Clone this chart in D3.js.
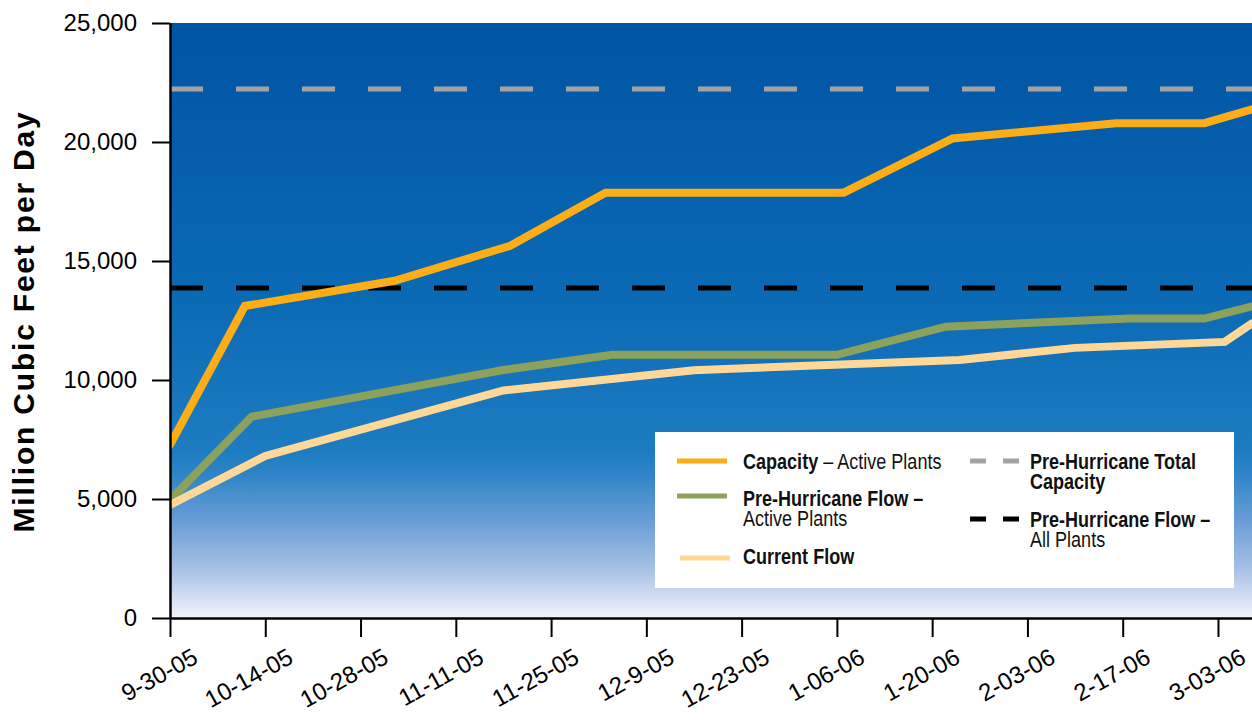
<!DOCTYPE html>
<html>
<head>
<meta charset="utf-8">
<script src="https://cdn.jsdelivr.net/npm/d3@7/dist/d3.min.js"></script>
<style>
  html, body { margin: 0; padding: 0; background: #ffffff; }
  svg { display: block; }
</style>
</head>
<body>
<svg id="chart" width="1252" height="721"></svg>
<script>
// ---- data ----------------------------------------------------------------
const tickLabels = ["9-30-05", "10-14-05", "10-28-05", "11-11-05", "11-25-05", "12-9-05",
                    "12-23-05", "1-06-06", "1-20-06", "2-03-06", "2-17-06", "3-03-06"];
const tickDates = ["2005-09-30", "2005-10-14", "2005-10-28", "2005-11-11", "2005-11-25", "2005-12-09",
                   "2005-12-23", "2006-01-06", "2006-01-20", "2006-02-03", "2006-02-17", "2006-03-03"];
const yTicks = [0, 5000, 10000, 15000, 20000, 25000];

// Capacity – Active Plants
const capacityDates  = ["2005-09-30", "2005-10-11", "2005-11-02", "2005-11-19", "2005-12-03",
                        "2006-01-07", "2006-01-23", "2006-02-16", "2006-03-01", "2006-03-08"];
const capacityValues = [7270, 13110, 14170, 15640, 17870, 17870, 20150, 20790, 20790, 21370];

// Pre-Hurricane Flow – Active Plants
const preFlowDates  = ["2005-09-30", "2005-10-12", "2005-11-18", "2005-12-04", "2006-01-06",
                       "2006-01-22", "2006-02-18", "2006-03-01", "2006-03-08"];
const preFlowValues = [4960, 8460, 10420, 11060, 11060, 12240, 12580, 12580, 13090];

// Current Flow
const currentDates  = ["2005-09-30", "2005-10-14", "2005-11-18", "2005-12-16", "2006-01-24",
                       "2006-02-10", "2006-03-04", "2006-03-08"];
const currentValues = [4750, 6810, 9560, 10410, 10840, 11350, 11600, 12380];

// Reference levels
const preHurricaneTotalCapacity = 22230;
const preHurricaneFlowAllPlants = 13870;

// ---- layout --------------------------------------------------------------
const svg = d3.select("#chart");
const plotLeft = 170, plotRight = 1252, plotTop = 23, plotBottom = 618;
const parse = d3.utcParse("%Y-%m-%d");
const sans = "'Liberation Sans', Arial, Helvetica, sans-serif";

const x = d3.scaleUtc()
  .domain([parse("2005-09-30"), parse("2006-03-08")])
  .range([plotLeft, plotRight]);
const y = d3.scaleLinear().domain([0, 25000]).range([plotBottom, plotTop]);

const defs = svg.append("defs");
const grad = defs.append("linearGradient")
  .attr("id", "bg").attr("x1", 0).attr("y1", 0).attr("x2", 0).attr("y2", 1);
[[0, "#0054a4"], [0.45, "#0a69b4"], [0.72, "#1d7cc1"], [0.76, "#2f85c7"],
 [0.84, "#6d9ed6"], [0.92, "#a9c1e6"], [1, "#f2f4fb"]]
  .forEach(([o, c]) => grad.append("stop").attr("offset", o).attr("stop-color", c));

defs.append("clipPath").attr("id", "plotClip")
  .append("rect").attr("x", plotLeft).attr("y", plotTop - 10)
  .attr("width", plotRight - plotLeft).attr("height", plotBottom - plotTop + 10);

svg.append("rect")
  .attr("x", plotLeft).attr("y", plotTop)
  .attr("width", plotRight - plotLeft).attr("height", plotBottom - plotTop)
  .attr("fill", "url(#bg)");

const plot = svg.append("g").attr("clip-path", "url(#plotClip)");

// dashed reference lines
plot.append("line")
  .attr("x1", plotLeft).attr("x2", plotRight)
  .attr("y1", y(preHurricaneTotalCapacity)).attr("y2", y(preHurricaneTotalCapacity))
  .attr("stroke", "#a3a3a3").attr("stroke-width", 5).attr("stroke-dasharray", "33 33");
plot.append("line")
  .attr("x1", plotLeft).attr("x2", plotRight)
  .attr("y1", y(preHurricaneFlowAllPlants)).attr("y2", y(preHurricaneFlowAllPlants))
  .attr("stroke", "#000000").attr("stroke-width", 5).attr("stroke-dasharray", "33 33");

// series lines
const line = d3.line().x(d => x(d[0])).y(d => y(d[1]));
const series = [
  { dates: preFlowDates,  values: preFlowValues,  color: "#8ca15b" },
  { dates: currentDates,  values: currentValues,  color: "#ffd796" },
  { dates: capacityDates, values: capacityValues, color: "#fdae17" }
];
series.forEach(s => {
  const pts = s.dates.map((d, i) => [parse(d), s.values[i]]);
  plot.append("path")
    .datum(pts)
    .attr("d", line)
    .attr("fill", "none")
    .attr("stroke", s.color)
    .attr("stroke-width", 8)
    .attr("stroke-linecap", "round")
    .attr("stroke-linejoin", "miter");
});

// ---- axes ----------------------------------------------------------------
const yAxis = d3.axisLeft(y)
  .tickValues(yTicks)
  .tickFormat(d3.format(","))
  .tickSize(18).tickSizeOuter(0).tickPadding(15);
const gy = svg.append("g").attr("transform", `translate(${plotLeft},0)`).call(yAxis);
gy.select(".domain").attr("stroke", "#000").attr("stroke-width", 2.5);
gy.selectAll(".tick line").attr("stroke", "#000").attr("stroke-width", 2);
gy.selectAll(".tick text")
  .attr("font-family", sans)
  .attr("font-size", 24).attr("fill", "#000");

const labelByDate = new Map(tickDates.map((d, i) => [d, tickLabels[i]]));
const xAxis = d3.axisBottom(x)
  .tickValues(tickDates.map(parse))
  .tickFormat(d => labelByDate.get(d3.utcFormat("%Y-%m-%d")(d)))
  .tickSize(19).tickSizeOuter(0);
const gx = svg.append("g").attr("transform", `translate(0,${plotBottom})`).call(xAxis);
gx.select(".domain").attr("stroke", "#000").attr("stroke-width", 2.5);
gx.selectAll(".tick line").attr("stroke", "#000").attr("stroke-width", 2);
gx.selectAll(".tick text")
  .attr("font-family", sans)
  .attr("font-size", 24).attr("fill", "#000")
  .attr("text-anchor", "end")
  .attr("dy", 0).attr("y", 0)
  .attr("transform", "translate(29,44) rotate(-29)");

// y-axis title
svg.append("text")
  .attr("transform", `translate(34,${(105 + 538) / 2}) rotate(-90)`)
  .attr("text-anchor", "middle")
  .attr("font-family", sans)
  .attr("font-weight", "bold").attr("font-size", 30)
  .attr("letter-spacing", 1.8)
  .attr("fill", "#000")
  .text("Million Cubic Feet per Day");

// ---- legend --------------------------------------------------------------
const legend = svg.append("g");
legend.append("rect")
  .attr("x", 655).attr("y", 432).attr("width", 579).attr("height", 156)
  .attr("fill", "#ffffff");

const solidItems = [
  { color: "#fdae17", x1: 677, y: 461, lines: [[["Capacity", true], [" – Active Plants", false]]], ty: [469] },
  { color: "#8ca15b", x1: 677, y: 496, lines: [[["Pre-Hurricane Flow –", true]], [["Active Plants", false]]], ty: [506, 526] },
  { color: "#ffd796", x1: 680, y: 558, lines: [[["Current Flow", true]]], ty: [564] }
];
const dashItems = [
  { color: "#a3a3a3", y: 461, lines: [[["Pre-Hurricane Total", true]], [["Capacity", true]]], ty: [469, 489] },
  { color: "#000000", y: 519, lines: [[["Pre-Hurricane Flow –", true]], [["All Plants", false]]], ty: [527, 547] }
];

// condensed lettering: regular sans squeezed horizontally
function addText(tx, item) {
  item.lines.forEach((parts, i) => {
    const t = legend.append("text")
      .attr("transform", `translate(${tx},${item.ty[i]}) scale(0.82,1)`)
      .attr("font-family", sans)
      .attr("font-size", 22).attr("fill", "#111");
    parts.forEach(([str, bold]) => {
      t.append("tspan").attr("font-weight", bold ? "bold" : "normal").text(str);
    });
  });
}

solidItems.forEach(it => {
  legend.append("line")
    .attr("x1", it.x1).attr("x2", it.x1 + 50).attr("y1", it.y).attr("y2", it.y)
    .attr("stroke", it.color).attr("stroke-width", 5);
  addText(743, it);
});
dashItems.forEach(it => {
  legend.append("line")
    .attr("x1", 970).attr("x2", 1020).attr("y1", it.y).attr("y2", it.y)
    .attr("stroke", it.color).attr("stroke-width", 5)
    .attr("stroke-dasharray", "16 17");
  addText(1030, it);
});
</script>
</body>
</html>
